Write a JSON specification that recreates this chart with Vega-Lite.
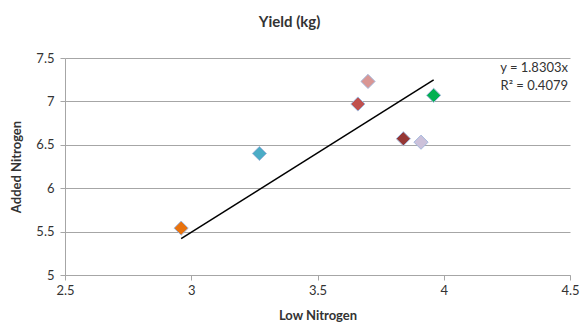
{
  "$schema": "https://vega.github.io/schema/vega-lite/v6.json",
  "width": 505,
  "height": 217,
  "autosize": {"type": "none"},
  "padding": {"left": 65, "top": 58, "right": 12, "bottom": 59},
  "background": "white",
  "title": {"text": "Yield (kg)", "font": "Lato", "fontSize": 15, "fontWeight": "bold", "color": "#333333", "anchor": "middle", "offset": 22, "dx": -28},
  "config": {
    "view": {"stroke": null},
    "font": "Lato",
    "axis": {"labelFont": "Lato", "titleFont": "Lato", "labelFontSize": 13, "titleFontSize": 13, "labelColor": "#333333", "titleColor": "#333333", "titleFontWeight": "bold", "domainColor": "#a6a6a6", "tickColor": "#a6a6a6", "gridColor": "#a6a6a6", "gridWidth": 1.2, "format": "~g"}
  },
  "datasets": {
    "pts": [
      {"low": 2.96, "added": 5.54, "id": "a"},
      {"low": 3.27, "added": 6.40, "id": "b"},
      {"low": 3.66, "added": 6.97, "id": "c"},
      {"low": 3.70, "added": 7.23, "id": "d"},
      {"low": 3.84, "added": 6.57, "id": "e"},
      {"low": 3.91, "added": 6.53, "id": "f"},
      {"low": 3.96, "added": 7.07, "id": "g"}
    ],
    "trend": [
      {"low": 2.96, "added": 5.418},
      {"low": 3.96, "added": 7.248}
    ],
    "eq1": [{"t": "y = 1.8303x"}],
    "eq2": [{"t": "R² = 0.4079"}]
  },
  "layer": [
    {
      "data": {"name": "trend"},
      "mark": {"type": "line", "color": "#000000", "strokeWidth": 1.5},
      "encoding": {
        "x": {"field": "low", "type": "quantitative", "scale": {"domain": [2.5, 4.5], "nice": false, "zero": false}, "axis": {"title": "Low Nitrogen", "values": [2.5, 3, 3.5, 4, 4.5], "grid": false, "tickSize": 5, "labelPadding": 4, "titlePadding": 12, "labelFlush": false}},
        "y": {"field": "added", "type": "quantitative", "scale": {"domain": [5, 7.5], "nice": false, "zero": false}, "axis": {"title": "Added Nitrogen", "values": [5, 5.5, 6, 6.5, 7, 7.5], "grid": true, "tickSize": 5, "labelPadding": 6, "titlePadding": 12, "labelFlush": false}}
      }
    },
    {
      "data": {"name": "pts"},
      "mark": {"type": "point", "shape": "diamond", "filled": true, "size": 200, "opacity": 1, "stroke": "#a4b8dc", "strokeWidth": 1},
      "encoding": {
        "x": {"field": "low", "type": "quantitative"},
        "y": {"field": "added", "type": "quantitative"},
        "color": {"field": "id", "type": "nominal", "legend": null, "scale": {"domain": ["a","b","c","d","e","f","g"], "range": ["#e8730f", "#4bacc6", "#c0504d", "#d99694", "#953735", "#ccc1da", "#00b050"]}}
      }
    },
    {
      "data": {"name": "eq1"},
      "mark": {"type": "text", "align": "right", "baseline": "middle", "font": "Lato", "fontSize": 13, "color": "#333333", "dx": -2},
      "encoding": {
        "x": {"datum": 4.5, "type": "quantitative"},
        "y": {"datum": 7.385, "type": "quantitative"},
        "text": {"field": "t"}
      }
    },
    {
      "data": {"name": "eq2"},
      "mark": {"type": "text", "align": "right", "baseline": "middle", "font": "Lato", "fontSize": 13, "color": "#333333", "dx": -2},
      "encoding": {
        "x": {"datum": 4.5, "type": "quantitative"},
        "y": {"datum": 7.18, "type": "quantitative"},
        "text": {"field": "t"}
      }
    }
  ]
}
